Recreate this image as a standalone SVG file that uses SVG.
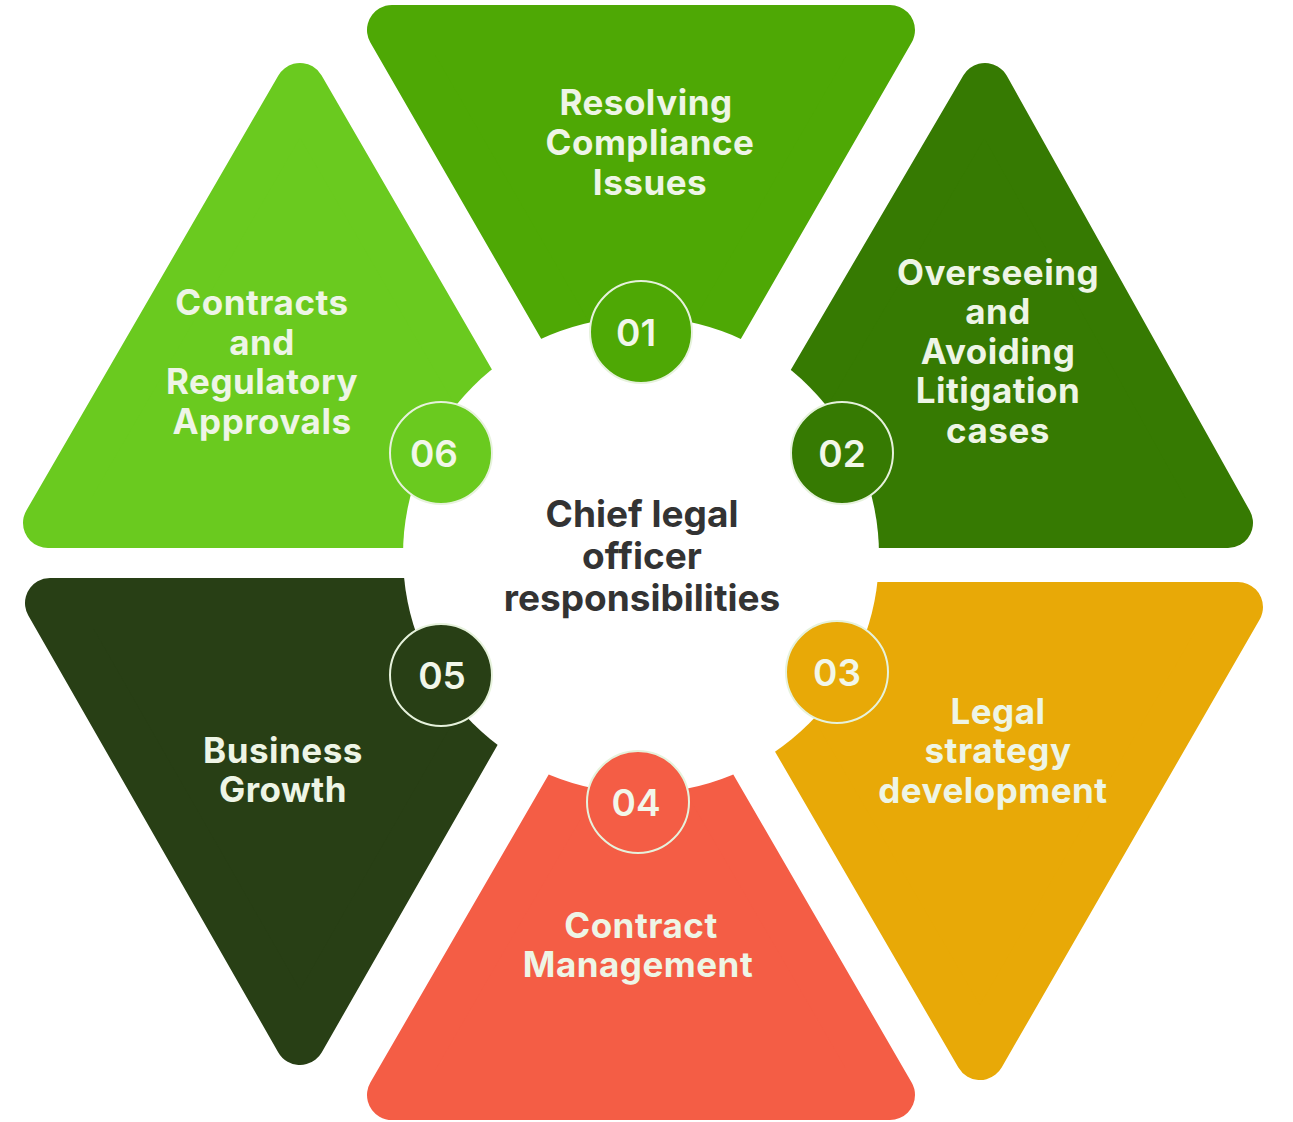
<svg xmlns="http://www.w3.org/2000/svg" width="1293" height="1122" viewBox="0 0 1293 1122">
<style>
.tri{stroke-width:50;stroke-linejoin:round}
.lbl{font-family:Inter,"Liberation Sans",sans-serif;font-weight:700;font-size:35px;letter-spacing:0.5px;fill:#eef5e6;text-anchor:middle}
.num{font-family:Inter,"Liberation Sans",sans-serif;font-weight:600;font-size:37px;fill:#f2f7ea;text-anchor:middle}
.badge{stroke:#e6f2dc;stroke-width:2}
.ctr{font-family:Inter,"Liberation Sans",sans-serif;font-weight:700;font-size:37px;fill:#333333;text-anchor:middle}
</style>
<rect width="1293" height="1122" fill="#ffffff"/>
<g id="connectors"></g>
<g id="n01"><polygon class="tri" points="392,30 890,30 641,462" fill="#4ea805" stroke="#4ea805"/>
<text class="lbl" x="646" y="115">Resolving</text><text class="lbl" x="650" y="155">Compliance</text><text class="lbl" x="650" y="195">Issues</text></g>
<g id="n02"><polygon class="tri" points="985,88 1228,523 730,523" fill="#367a02" stroke="#367a02"/>
<text class="lbl" x="998" y="285">Overseeing</text><text class="lbl" x="998" y="324">and</text><text class="lbl" x="998" y="364">Avoiding</text><text class="lbl" x="998" y="403">Litigation</text><text class="lbl" x="998" y="443">cases</text></g>
<g id="n03"><polygon class="tri" points="720,607 1238,607 980,1055" fill="#e8a907" stroke="#e8a907"/>
<text class="lbl" x="998" y="724">Legal</text><text class="lbl" x="998" y="763">strategy</text><text class="lbl" x="993" y="803">development</text></g>
<g id="n04"><polygon class="tri" points="392,1095 890,1095 641,665" fill="#f45d45" stroke="#f45d45"/>
<text class="lbl" x="641" y="938">Contract</text><text class="lbl" x="638" y="977">Management</text></g>
<g id="n05"><polygon class="tri" points="50,603 550,603 300,1040" fill="#283f15" stroke="#283f15"/>
<text class="lbl" x="283" y="763">Business</text><text class="lbl" x="283" y="802">Growth</text></g>
<g id="n06"><polygon class="tri" points="300,88 552,523 48,523" fill="#6aca1f" stroke="#6aca1f"/>
<text class="lbl" x="262" y="315">Contracts</text><text class="lbl" x="262" y="355">and</text><text class="lbl" x="262" y="394">Regulatory</text><text class="lbl" x="262" y="434">Approvals</text></g>
<g id="center"><circle cx="641" cy="555" r="238" fill="#ffffff"/>
<text class="ctr" x="642" y="527">Chief legal</text><text class="ctr" x="642" y="569">officer</text><text class="ctr" x="642" y="611">responsibilities</text></g>
<g id="b01"><circle class="badge" cx="641" cy="332" r="51" fill="#4ea805"/><text class="num" x="636" y="346">01</text></g>
<g id="b02"><circle class="badge" cx="842" cy="453" r="51" fill="#367a02"/><text class="num" x="842" y="467">02</text></g>
<g id="b03"><circle class="badge" cx="837" cy="672" r="51" fill="#e8a907"/><text class="num" x="837" y="686">03</text></g>
<g id="b04"><circle class="badge" cx="638" cy="802" r="51" fill="#f45d45"/><text class="num" x="636" y="816">04</text></g>
<g id="b05"><circle class="badge" cx="441" cy="675" r="51" fill="#283f15"/><text class="num" x="442" y="689">05</text></g>
<g id="b06"><circle class="badge" cx="441" cy="453" r="51" fill="#6aca1f"/><text class="num" x="434" y="467">06</text></g>
</svg>
